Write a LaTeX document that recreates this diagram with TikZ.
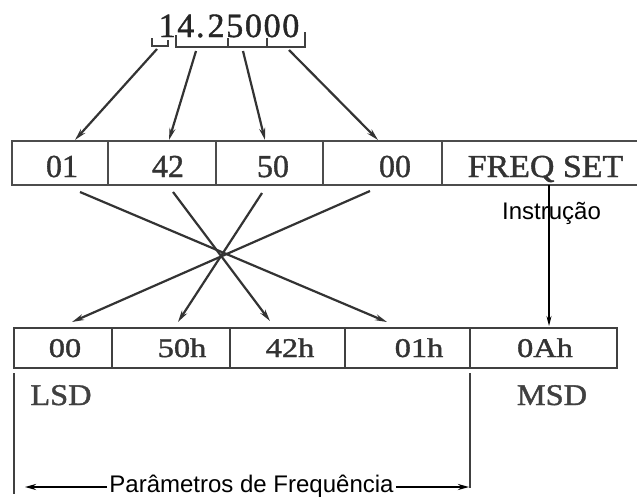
\documentclass[tikz,border=0pt]{standalone}
\usepackage{fontspec}
\setmainfont{Liberation Serif}
\newfontfamily\sansf{Liberation Sans}
\newfontfamily\heavyserif{Liberation Serif}[FakeBold=1.2]
\usetikzlibrary{arrows.meta,calc}
\tikzset{
  cellbox/.style={draw=black!70, line width=2pt, inner sep=0pt, minimum height=44pt},
  lowbox/.style={draw=black!75, line width=2pt, inner sep=0pt, minimum height=40pt},
  topval/.style={anchor=base, inner sep=0pt, text=black!80, font=\heavyserif\fontsize{32}{32}\selectfont},
  lowval/.style={anchor=base, inner sep=0pt, text=black!80, font=\heavyserif\fontsize{27}{27}\selectfont, xscale=1.2},
  sideval/.style={anchor=base, inner sep=0pt, text=black!75, font=\heavyserif\fontsize{30}{30}\selectfont, xscale=1.08},
  sanslbl/.style={inner sep=0pt, text=black, font=\sansf\fontsize{24}{24}\selectfont},
  arrgray/.style={draw=black!80, line width=2.2pt, -{Stealth[length=12pt,width=6pt]}},
  arrthin/.style={draw=black, line width=1.3pt, -{Stealth[length=10pt,width=5pt]}},
  arrbold/.style={draw=black, line width=2.4pt, -{Stealth[length=11pt,width=6pt]}},
  bracket/.style={draw=black!75, line width=2pt},
  guide/.style={draw=black!75, line width=1.8pt}
}
\begin{document}
\begin{tikzpicture}[x=1pt,y=-1pt]
\useasboundingbox (0,0) rectangle (637,498);
\fill[white] (0,0) rectangle (637,498);

% number and brackets
\node[anchor=base, inner sep=0pt, text=black!85, font=\heavyserif\fontsize{34}{34}\selectfont\addfontfeature{LetterSpace=5}] (num) at (229,37) {14.\kern3pt25000};
\draw[bracket] (152,38) |- (168,46) -- (168,40);
\draw[bracket] (176,35) |- (305,47) -- (305,32);
\draw[bracket] (228,38) -- (228,47);
\draw[bracket] (267,38) -- (267,47);
\coordinate (bA) at (157,49);
\coordinate (bB) at (196,51);
\coordinate (bC) at (243,51);
\coordinate (bD) at (289,50);

% top row
\node[cellbox, minimum width=96pt] (t1) at (60,163) {};
\node[cellbox, minimum width=108pt] (t2) at (162,163) {};
\node[cellbox, minimum width=107pt] (t3) at (269.5,163) {};
\node[cellbox, minimum width=119pt] (t4) at (382.5,163) {};
\node[inner sep=0pt, minimum width=195pt, minimum height=44pt] (t5) at (539.5,163) {};
\draw[draw=black!70, line width=2pt] (t5.north west) -- (t5.north east) (t5.south west) -- (t5.south east);
\node[topval] at (62,177) {01};
\node[topval] at (168,177) {42};
\node[topval] at (273,177) {50};
\node[topval] at (395,177) {00};
\node[topval, xscale=1.06] at (545.5,177) {FREQ SET};

% arrows from number
\draw[arrgray] (bA) -- ([xshift=15pt]t1.north);
\draw[arrgray] (bB) -- ([xshift=7pt]t2.north);
\draw[arrgray] (bC) -- ([xshift=-4.5pt]t3.north);
\draw[arrgray] (bD) -- ([xshift=-4.5pt]t4.north);

% bottom row
\node[lowbox, minimum width=98pt] (b1) at (63,348) {};
\node[lowbox, minimum width=118pt] (b2) at (171,348) {};
\node[lowbox, minimum width=115pt] (b3) at (287.5,348) {};
\node[lowbox, minimum width=125pt] (b4) at (407.5,348) {};
\node[lowbox, minimum width=147pt] (b5) at (543.5,348) {};
\node[lowval] at (65,357) {00};
\node[lowval] at (182,357) {50h};
\node[lowval] at (290,357) {42h};
\node[lowval] at (419,357) {01h};
\node[lowval] at (545,357) {0Ah};

% crossing lines
\draw[arrgray] ([xshift=20pt,yshift=-6pt]t1.south) -- ([xshift=-20.5pt,yshift=5pt]b4.north);
\draw[arrgray] ([xshift=11pt,yshift=-6pt]t2.south) -- ([xshift=-17.5pt,yshift=6pt]b3.north);
\draw[arrgray] ([xshift=-7.5pt,yshift=-7pt]t3.south) -- ([xshift=7pt,yshift=5pt]b2.north);
\draw[arrgray] ([xshift=-12.5pt,yshift=-5pt]t4.south) -- ([xshift=9pt,yshift=5pt]b1.north);

% instruction
\node[sanslbl, anchor=base west] (instr) at (502,219) {Instrução};
\draw[arrthin] ([xshift=9.5pt]t5.south) -- ([xshift=5.5pt,yshift=1pt]b5.north);

% LSD / MSD
\node[sideval] (lsd) at (61,405) {LSD};
\node[sideval] (msd) at (552,405) {MSD};

% frequency parameters
\node[sanslbl, anchor=base, inner sep=2pt] (param) at (251.5,492) {Parâmetros de Frequência};
\coordinate (gl) at (14,373);
\coordinate (gr) at (470,373);
\draw[guide] (gl) -- (14,494);
\draw[guide] (gr) -- (470,488);
\coordinate (pl) at (25,487);
\coordinate (pr) at (469,487);
\draw[arrbold] (param.west |- pl) -- (pl);
\draw[arrbold] (param.east |- pr) -- (pr);
\end{tikzpicture}
\end{document}
